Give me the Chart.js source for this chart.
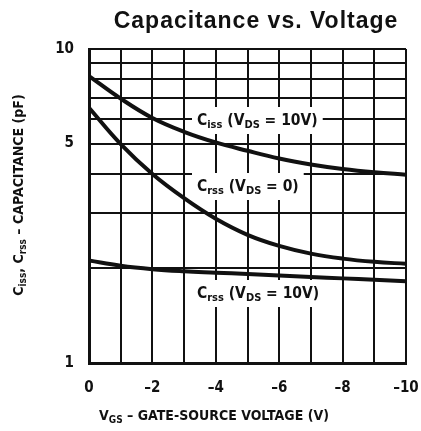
<!DOCTYPE html>
<html>
<head>
<meta charset="utf-8">
<script src="https://cdn.jsdelivr.net/npm/chart.js@4.4.0/dist/chart.umd.min.js"></script>
<style>
  html, body { margin: 0; padding: 0; background: #fff; }
  #wrap { width: 421px; height: 431px; }
</style>
</head>
<body>
<div id="wrap"><canvas id="capChart" width="421" height="431"></canvas></div>
<script>
// gate-source voltage (V) and capacitance (pF) per curve
const volts = [0, -1, -2, -3, -4, -5, -6, -7, -8, -9, -10];
const cissVds10 = [8.2, 6.95, 6.03, 5.45, 5.04, 4.74, 4.48, 4.29, 4.15, 4.05, 3.98];
const crssVds0 = [6.5, 4.98, 4.0, 3.35, 2.88, 2.56, 2.36, 2.23, 2.15, 2.1, 2.07];
const crssVds10 = [2.12, 2.04, 1.99, 1.96, 1.94, 1.92, 1.9, 1.88, 1.86, 1.84, 1.82];

const yTicks = [1, 2, 3, 4, 5, 6, 7, 8, 9, 10];
const yLabelled = [1, 5, 10];
const xLabelled = [0, -2, -4, -6, -8, -10];

const FONT = "'Liberation Sans Narrow', 'DejaVu Sans Condensed', 'Liberation Sans', sans-serif";

// curve labels: [text, subscript?] pieces, left x, baseline y
const curveLabels = [
  { parts: [['C', 0], ['iss', 1], [' (V', 0], ['DS', 1], [' = 10V)', 0]], x: 197, y: 125 },
  { parts: [['C', 0], ['rss', 1], [' (V', 0], ['DS', 1], [' = 0)', 0]], x: 197, y: 191 },
  { parts: [['C', 0], ['rss', 1], [' (V', 0], ['DS', 1], [' = 10V)', 0]], x: 197, y: 298 },
];

function toPoints(ys) {
  return volts.map((v, i) => ({ x: v, y: ys[i] }));
}

function richWidth(ctx, parts, size) {
  let w = 0;
  parts.forEach(([t, sub]) => {
    ctx.font = `bold ${sub ? Math.round(size * 0.7) : size}px ${FONT}`;
    w += ctx.measureText(t).width;
  });
  return w;
}

function drawRich(ctx, parts, x, y, size) {
  let cx = x;
  parts.forEach(([t, sub]) => {
    ctx.font = `bold ${sub ? Math.round(size * 0.7) : size}px ${FONT}`;
    ctx.fillText(t, cx, sub ? y + size * 0.22 : y);
    cx += ctx.measureText(t).width;
  });
}

const textPlugin = {
  id: 'textPlugin',
  beforeDatasetsDraw(chart) {
    const ctx = chart.ctx;
    ctx.save();
    ctx.textBaseline = 'alphabetic';
    ctx.textAlign = 'left';
    curveLabels.forEach((lb) => {
      const w = richWidth(ctx, lb.parts, 15.5);
      ctx.fillStyle = '#fff';
      ctx.fillRect(lb.x - 5, lb.y - 18, w + 10, 27);
      ctx.fillStyle = '#111';
      drawRich(ctx, lb.parts, lb.x, lb.y, 15.5);
    });
    ctx.restore();
  },
  afterDraw(chart) {
    const ctx = chart.ctx;
    ctx.save();
    ctx.fillStyle = '#111';
    ctx.textBaseline = 'alphabetic';
    ctx.textAlign = 'center';
    ctx.font = `bold 23px 'Liberation Sans', Arial, sans-serif`;
    ctx.letterSpacing = '1px';
    ctx.fillText('Capacitance vs. Voltage', 256, 28);
    ctx.letterSpacing = '0px';

    ctx.textAlign = 'left';
    const xParts = [['V', 0], ['GS', 1], [' – GATE-SOURCE VOLTAGE (V)', 0]];
    const xw = richWidth(ctx, xParts, 14);
    drawRich(ctx, xParts, 214 - xw / 2, 420, 14);

    const yParts = [['C', 0], ['iss', 1], [', C', 0], ['rss', 1], [' – CAPACITANCE (pF)', 0]];
    const yw = richWidth(ctx, yParts, 14);
    ctx.translate(23, 195);
    ctx.rotate(-Math.PI / 2);
    drawRich(ctx, yParts, -yw / 2, 0, 14);
    ctx.restore();
  },
};

const lineStyle = {
  borderColor: '#111',
  borderWidth: 4,
  pointRadius: 0,
  fill: false,
  tension: 0.4,
};

new Chart(document.getElementById('capChart'), {
  type: 'line',
  data: {
    datasets: [
      { label: 'Ciss (VDS = 10V)', data: toPoints(cissVds10), ...lineStyle },
      { label: 'Crss (VDS = 0)', data: toPoints(crssVds0), ...lineStyle },
      { label: 'Crss (VDS = 10V)', data: toPoints(crssVds10), ...lineStyle },
    ],
  },
  options: {
    responsive: false,
    animation: false,
    devicePixelRatio: 1,
    layout: { padding: { top: 49, left: 0, right: 15, bottom: 0 } },
    plugins: {
      legend: { display: false },
      title: { display: false },
      tooltip: { enabled: false },
    },
    scales: {
      x: {
        type: 'linear',
        min: -10,
        max: 0,
        reverse: true,
        afterFit: (scale) => {
          scale.height = 68;
          scale.paddingLeft = 0;
          scale.paddingRight = 0;
        },
        grid: { color: '#111', lineWidth: 2, drawTicks: false },
        border: { color: '#111', width: 3 },
        ticks: {
          stepSize: 1,
          autoSkip: false,
          maxRotation: 0,
          padding: 16,
          color: '#111',
          font: { family: FONT, size: 15, weight: 'bold' },
          callback: (v) => (xLabelled.includes(v) ? (v === 0 ? '0' : '–' + -v) : ''),
        },
      },
      y: {
        type: 'logarithmic',
        min: 1,
        max: 10,
        afterFit: (scale) => {
          scale.width = 89;
          scale.paddingTop = 0;
          scale.paddingBottom = 0;
        },
        afterBuildTicks: (scale) => { scale.ticks = yTicks.map((v) => ({ value: v })); },
        grid: { color: '#111', lineWidth: 2, drawTicks: false },
        border: { color: '#111', width: 3 },
        ticks: {
          autoSkip: false,
          padding: 15,
          color: '#111',
          font: { family: FONT, size: 15, weight: 'bold' },
          callback: (v) => (yLabelled.includes(v) ? String(v) : ''),
        },
      },
    },
  },
  plugins: [textPlugin],
});
</script>
</body>
</html>
